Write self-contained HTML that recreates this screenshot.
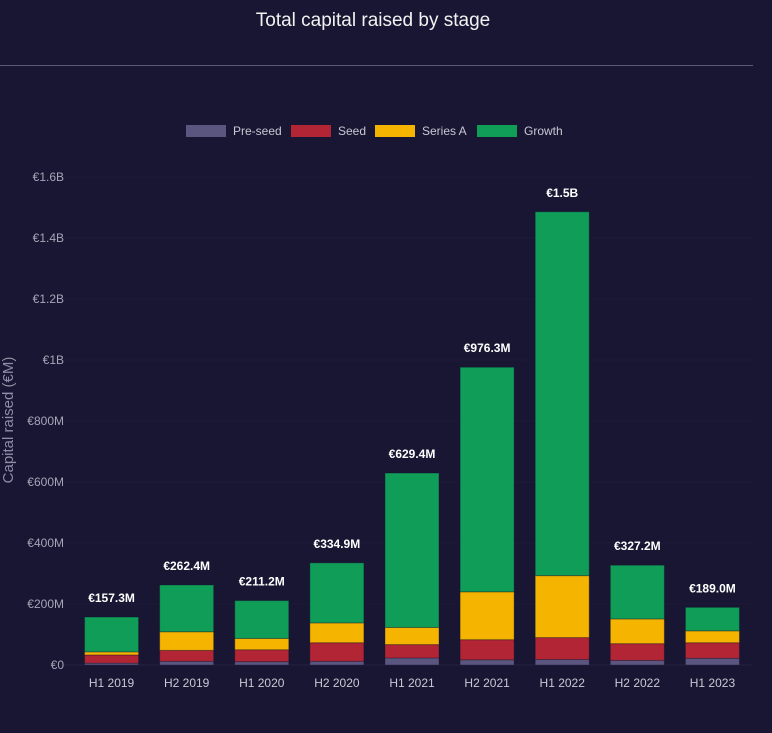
<!DOCTYPE html>
<html><head><meta charset="utf-8">
<style>
html,body{margin:0;padding:0;background:#181632;}
body{width:772px;height:728px;overflow:hidden;font-family:"Liberation Sans",sans-serif;}
</style></head>
<body>
<svg id="chart" width="772" height="728" xmlns="http://www.w3.org/2000/svg">
<rect width="772" height="728" fill="#181632"/>
<text x="373" y="26" text-anchor="middle" fill="#f2f2f2" font-size="19" font-family="'Liberation Sans Narrow','Liberation Sans',sans-serif">Total capital raised by stage</text>
<line x1="0" y1="65.5" x2="753" y2="65.5" stroke="#5c5a72" stroke-width="1"/>
<g id="legend"></g>
<g id="grid"></g>
<g id="bars"></g>
<g id="labels"></g>
<text transform="translate(13,420) rotate(-90)" text-anchor="middle" fill="#8f8da3" font-size="15">Capital raised (€M)</text>
</svg>
<script>
const categories = ["H1 2019","H2 2019","H1 2020","H2 2020","H1 2021","H2 2021","H1 2022","H2 2022","H1 2023"];
const preSeed = [6,12,11,12,23,17,18,15,22];
const seed = [27,36,39,61,44,66,72,55,51];
const seriesA = [10,61,37,65,56,157,203,81,39];
const growth = [114.3,153.4,124.2,196.9,506.4,736.3,1193,176.2,77];
const totalLabels = ["€157.3M","€262.4M","€211.2M","€334.9M","€629.4M","€976.3M","€1.5B","€327.2M","€189.0M"];
const yTicks = [0,200,400,600,800,1000,1200,1400,1600];
const yTickLabels = ["€0","€200M","€400M","€600M","€800M","€1B","€1.2B","€1.4B","€1.6B"];
const seriesNames = ["Pre-seed","Seed","Series A","Growth"];

const NS="http://www.w3.org/2000/svg";
const colors=["#5b5680","#b12535","#f4b400","#0f9d58"];
const plotL=74, plotR=750, y0=665, yTop=177, yMax=1600;
const band=(plotR-plotL)/categories.length, barW=54;
function yScale(v){return y0-(v/yMax)*(y0-yTop);}
function xCenter(i){return plotL+band*(i+0.5);}
function mk(tag,attrs,parent){const e=document.createElementNS(NS,tag);for(const k in attrs)e.setAttribute(k,attrs[k]);parent.appendChild(e);return e;}

const grid=document.getElementById('grid');
yTicks.forEach((t,i)=>{
  const y=yScale(t);
  const l=mk('line',{x1:64,x2:752,y1:y,y2:y,stroke:i===0?'#24223e':'#1c1a36','stroke-width':1},grid);
  
  
  const tx=mk('text',{x:64,y:y+4,'text-anchor':'end',fill:'#a7a5b8','font-size':12},grid);
  tx.textContent=yTickLabels[i];
  
  
});

const series=[preSeed,seed,seriesA,growth];
const bars=document.getElementById('bars'), labels=document.getElementById('labels');
categories.forEach((c,i)=>{
  let cum=0;
  const x=xCenter(i)-barW/2;
  series.forEach((s,k)=>{
    const v=s[i];
    const yT=yScale(cum+v), yB=yScale(cum);
    const r=mk('rect',{x:x,y:yT,width:barW,height:Math.max(0,yB-yT),fill:colors[k],stroke:'rgba(20,18,45,0.35)','stroke-width':1},bars);
    
    
    cum+=v;
  });
  const tl=mk('text',{x:xCenter(i),y:yScale(cum)-15,'text-anchor':'middle',fill:'#ffffff','font-size':12,'font-weight':'bold'},labels);
  tl.textContent=totalLabels[i];
  
  
  const xl=mk('text',{x:xCenter(i),y:687,'text-anchor':'middle',fill:'#c9c8d4','font-size':12},labels);
  xl.textContent=c;
  
  
});

const legend=document.getElementById('legend');
const legX=[186,291,375,477];
seriesNames.forEach((n,k)=>{
  const r=mk('rect',{x:legX[k],y:125,width:40,height:12,fill:colors[k]},legend);
  
  
  const t=mk('text',{x:legX[k]+47,y:135,fill:'#c9c8d4','font-size':12},legend);
  t.textContent=n;
  
  
});
</script>
</body></html>
